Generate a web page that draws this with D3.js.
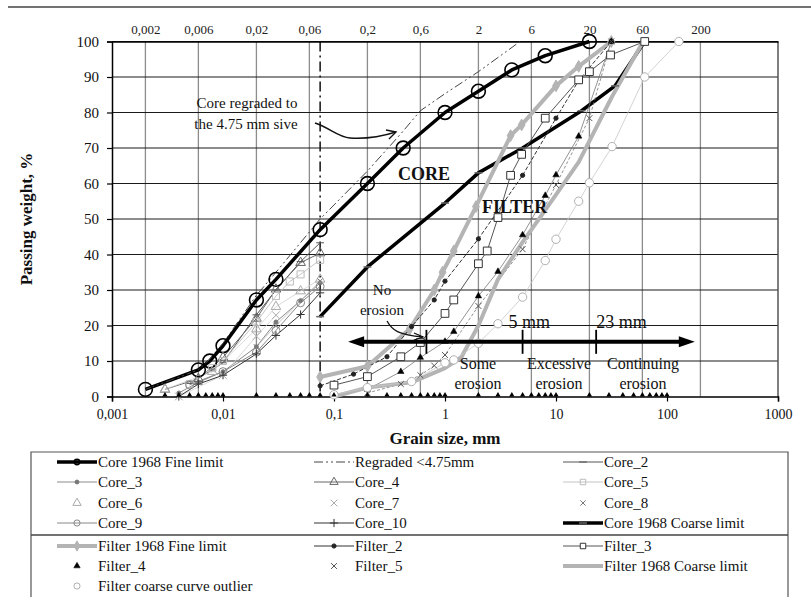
<!DOCTYPE html>
<html>
<head>
<meta charset="utf-8">
<script src="https://cdn.jsdelivr.net/npm/d3@7"></script>
<style>
  html, body { margin: 0; padding: 0; background: #fff; }
  svg { display: block; }
</style>
</head>
<body>
<svg id="chart" width="811" height="611" font-family="Liberation Serif, Times New Roman, serif"></svg>
<script>
// ---- axis ticks ----
const decadeTicks = [0.001, 0.01, 0.1, 1, 10, 100, 1000];
const decadeLabels = ["0,001", "0,01", "0,1", "1", "10", "100", "1000"];
const sieveTicks = [0.002, 0.006, 0.02, 0.06, 0.2, 0.6, 2, 6, 20, 60, 200];
const sieveLabels = ["0,002", "0,006", "0,02", "0,06", "0,2", "0,6", "2", "6", "20", "60", "200"];
const passingTicks = [0, 10, 20, 30, 40, 50, 60, 70, 80, 90, 100];
const siltLimit = 0.075;

// ---- gradation curves: [grain size mm, passing %] ----
const coreFineLimit = [[0.002, 2], [0.006, 7.5], [0.0076, 10], [0.01, 14.3], [0.02, 27.2], [0.03, 33], [0.075, 47], [0.2, 60], [0.42, 70], [1, 80], [2, 86], [4, 92], [8, 96], [20, 100]];
const regraded = [[0.002, 2], [0.006, 7.5], [0.0076, 10.5], [0.01, 15], [0.02, 28.5], [0.03, 35], [0.075, 50], [0.2, 63.5], [0.4, 74], [0.6, 80.5], [1, 85.3], [2, 91.5], [4.75, 100]];
const core2 = [[0.005, 3.7], [0.008, 7.5], [0.01, 9.5], [0.02, 23], [0.03, 30], [0.05, 38], [0.075, 43.3]];
const core3 = [[0.004, 1], [0.006, 4], [0.01, 7], [0.02, 14], [0.03, 21], [0.05, 27], [0.075, 32]];
const core4 = [[0.003, 2], [0.006, 5], [0.01, 11], [0.02, 22], [0.03, 30.2], [0.05, 37.7], [0.075, 40.4]];
const core5 = [[0.005, 3.5], [0.008, 8], [0.01, 10], [0.02, 21], [0.03, 28.3], [0.04, 32.4], [0.05, 34.4], [0.075, 38.5]];
const core6 = [[0.003, 2], [0.008, 7], [0.02, 19], [0.03, 25.3], [0.05, 29.7], [0.075, 33]];
const core7 = [[0.004, 0], [0.01, 6], [0.02, 17], [0.03, 22.9]];
const core8 = [[0.02, 14], [0.03, 20], [0.075, 32.5]];
const core9 = [[0.005, 3.3], [0.01, 7], [0.02, 12.5], [0.03, 18.6], [0.05, 26.4], [0.075, 31]];
const core10 = [[0.004, 0], [0.006, 3.5], [0.01, 6], [0.02, 12], [0.03, 17.2], [0.05, 23.1], [0.075, 29.2]];
const coreCoarseLimit = [[0.075, 22.5], [0.2, 36.5], [1, 54.5], [2, 63], [5, 70], [17, 80.5], [34, 87.5], [63, 100]];
const filterFineLimit = [[0.075, 5.5], [0.2, 8.5], [0.48, 19], [0.8, 30], [0.95, 35], [1.2, 41], [1.9, 53.5], [3.9, 73.5], [4.9, 76.5], [10, 87.5], [16, 93], [31.5, 100]];
const filter2 = [[0.075, 3], [0.15, 6.3], [0.3, 11.2], [0.5, 19.7], [0.8, 27.2], [1, 32.5], [2, 44.4], [5, 62.3], [10, 78.4], [16, 89], [31.5, 100]];
const filter3 = [[0.1, 3.2], [0.2, 5.6], [0.4, 11.2], [0.6, 15.2], [1, 23.4], [1.2, 27.2], [2, 37.4], [2.4, 41], [3, 50.4], [3.9, 62.3], [4.9, 68.2], [8, 78.4], [16, 89.2], [20, 91.5], [31, 96.2], [63, 100]];
const filter4 = [[0.2, 2], [0.4, 7], [0.6, 11], [1, 15.5], [1.2, 18.3], [2, 28.3], [3, 35.2], [5, 45.5], [8, 56.6], [10, 62.4], [16, 73.3], [31.5, 100]];
const filter5 = [[0.2, 1], [0.4, 3.5], [0.6, 6], [0.8, 8.7], [1, 11.7], [2, 25.5], [5, 41.5], [10, 59.6], [20, 78.4], [31.5, 100]];
const filterCoarseLimit = [[0.1, 0], [0.2, 2.5], [0.5, 4], [1, 8], [1.4, 11], [2, 20], [3, 33], [5, 43.5], [8, 52.5], [16, 66], [32, 84.5], [61, 100]];
const filterOutlier = [[0.1, 0.5], [0.2, 2.5], [0.5, 4.2], [1, 9.5], [1.2, 10.3], [2, 15], [3, 20.5], [5, 28], [8, 38.3], [10, 44.3], [16, 55], [20, 60.2], [32, 70.4], [63, 90], [128, 100]];
// sieves with no material retained, plotted on the 0 % line
const emptySieves = [0.003, 0.004, 0.005, 0.006, 0.007, 0.008, 0.009, 0.01, 0.02, 0.03, 0.04, 0.05, 0.06, 0.075, 0.1, 0.2, 0.3, 0.4, 0.5, 0.6, 0.7, 0.8, 0.9, 1, 2, 3, 4, 5, 6, 7, 8, 9, 10, 20, 30, 40, 50, 60, 70, 80, 90, 100];

// ---- erosion classification bar ----
const erosionRange = [0.134, 178];
const erosionLevel = 15.4;
const erosionBounds = [0.68, 5, 23];

// ---- series list (legend order) ----
const seriesNames = ["Core 1968 Fine limit", "Regraded <4.75mm", "Core_2", "Core_3", "Core_4", "Core_5", "Core_6", "Core_7", "Core_8", "Core_9", "Core_10", "Core 1968 Coarse limit", "Filter 1968 Fine limit", "Filter_2", "Filter_3", "Filter_4", "Filter_5", "Filter 1968 Coarse limit", "Filter coarse curve outlier"];
const seriesData = [coreFineLimit, regraded, core2, core3, core4, core5, core6, core7, core8, core9, core10, coreCoarseLimit, filterFineLimit, filter2, filter3, filter4, filter5, filterCoarseLimit, filterOutlier];

// drawing styles, by series index
const styles = [
  { stroke: "#000", width: 3.5, marker: "circle", size: 150, mStroke: "#000", mFill: "none", mWidth: 1.6, legSize: 22 },
  { stroke: "#444", width: 1, dash: "9,3,2,3,2,3" },
  { stroke: "#555", width: 1, marker: "dash", size: 8, mStroke: "#555", mWidth: 1 },
  { stroke: "#8a8a8a", width: 1, marker: "circle", size: 12, mStroke: "#777", mFill: "#777", mWidth: 1 },
  { stroke: "#666", width: 1, marker: "triangle", size: 40, mStroke: "#666", mFill: "none", mWidth: 1 },
  { stroke: "#c4c4c4", width: 1, marker: "square", size: 50, mStroke: "#bbb", mFill: "none", mWidth: 1 },
  { stroke: "#d0d0d0", width: 0.8, marker: "triangle", size: 40, mStroke: "#aaa", mFill: "none", mWidth: 1, noLegLine: true },
  { stroke: "#d0d0d0", width: 0.8, marker: "times", size: 40, mStroke: "#aaa", mWidth: 1, noLegLine: true },
  { stroke: "#bbb", width: 0.8, marker: "times", size: 20, mStroke: "#777", mWidth: 1, noLegLine: true },
  { stroke: "#888", width: 1, marker: "circle", size: 50, mStroke: "#888", mFill: "none", mWidth: 1 },
  { stroke: "#333", width: 1, marker: "plus", size: 24, mStroke: "#333", mWidth: 1 },
  { stroke: "#000", width: 3.5, marker: "dash", size: 8, mStroke: "#666", mWidth: 1.5 },
  { stroke: "#b4b4b4", width: 4, marker: "diamond", size: 40, mStroke: "#b4b4b4", mFill: "#b4b4b4", mWidth: 1 },
  { stroke: "#333", width: 1, dash: "4,2", marker: "circle", size: 14, mStroke: "#222", mFill: "#222", mWidth: 1, legDashOff: true },
  { stroke: "#555", width: 1, marker: "square", size: 60, mStroke: "#333", mFill: "#fff", mWidth: 1 },
  { stroke: "#777", width: 0.8, marker: "triangle", size: 18, mStroke: "#000", mFill: "#000", mWidth: 0.5, noLegLine: true },
  { stroke: "#777", width: 0.8, dash: "3,2", marker: "times", size: 24, mStroke: "#555", mWidth: 1, noLegLine: true },
  { stroke: "#b4b4b4", width: 4 },
  { stroke: "#c8c8c8", width: 0.8, marker: "circle", size: 55, mStroke: "#b0b0b0", mFill: "#fff", mWidth: 1, noLegLine: true }
];

// ---- scales ----
const x = d3.scaleLog().domain([0.001, 1000]).range([112, 778]);
const y = d3.scaleLinear().domain([0, 100]).range([396.5, 41.5]);

const svg = d3.select("#chart");
const FONT = "Liberation Serif, Times New Roman, serif";

function symbolPath(type, size) {
  if (type === "dash") { const h = Math.sqrt(size) * 1.4; return `M${-h},0H${h}`; }
  const map = {
    circle: d3.symbolCircle, triangle: d3.symbolTriangle, square: d3.symbolSquare,
    diamond: d3.symbolDiamond, times: d3.symbolTimes || d3.symbolCross, plus: d3.symbolPlus || d3.symbolCross
  };
  return d3.symbol().type(map[type]).size(size)();
}
function isStrokeOnly(type) { return type === "dash" || type === "times" || type === "plus"; }

// page rule at the top
svg.append("line").attr("x1", 8).attr("x2", 811).attr("y1", 7).attr("y2", 7)
  .attr("stroke", "#444").attr("stroke-width", 1.6);

// ---- grid ----
const grid = svg.append("g");
grid.selectAll(".vg").data(sieveTicks).join("line")
  .attr("x1", d => x(d)).attr("x2", d => x(d)).attr("y1", y(100)).attr("y2", y(0))
  .attr("stroke", "#8c8c8c").attr("stroke-width", 1.3);
grid.selectAll(".hg").data(passingTicks.filter(d => d > 0)).join("line")
  .attr("x1", x(0.001)).attr("x2", x(1000)).attr("y1", d => y(d)).attr("y2", d => y(d))
  .attr("stroke", "#1a1a1a").attr("stroke-width", 1.2);
grid.append("line").attr("x1", x(1000)).attr("x2", x(1000)).attr("y1", y(100)).attr("y2", y(0))
  .attr("stroke", "#555").attr("stroke-width", 1.5);

// silt / sand boundary
svg.append("line").attr("x1", x(siltLimit)).attr("x2", x(siltLimit)).attr("y1", y(100)).attr("y2", y(0))
  .attr("stroke", "#111").attr("stroke-width", 1.5).attr("stroke-dasharray", "10,4,2,4");

// ---- axes ----
const yAxis = d3.axisLeft(y).tickValues(passingTicks).tickSize(5).tickPadding(8).tickFormat(d3.format("d"));
const gy = svg.append("g").attr("transform", `translate(${x(0.001)},0)`).call(yAxis);
gy.attr("font-family", FONT);
gy.select(".domain").attr("stroke", "#000").attr("stroke-width", 1.5);
gy.selectAll(".tick line").attr("stroke", "#000").attr("stroke-width", 1.2);
gy.selectAll(".tick text").attr("font-size", 15).attr("fill", "#111");

const xAxis = d3.axisBottom(x).tickValues(decadeTicks).tickSize(5).tickPadding(8)
  .tickFormat((d, i) => decadeLabels[i]);
const gx = svg.append("g").attr("transform", `translate(0,${y(0)})`).call(xAxis);
gx.attr("font-family", FONT);
gx.select(".domain").attr("stroke", "#000").attr("stroke-width", 1.5);
gx.selectAll(".tick line").attr("stroke", "#000").attr("stroke-width", 1.2);
gx.selectAll(".tick text").attr("font-size", 14).attr("fill", "#111");

const xTop = d3.axisTop(x).tickValues(sieveTicks).tickSize(0).tickPadding(8)
  .tickFormat((d, i) => sieveLabels[i]);
const gt = svg.append("g").attr("transform", `translate(0,${y(100)})`).call(xTop);
gt.attr("font-family", FONT);
gt.select(".domain").attr("stroke", "#000").attr("stroke-width", 1.5);
gt.selectAll(".tick text").attr("font-size", 13).attr("fill", "#222");

// axis titles
svg.append("text").attr("x", 445).attr("y", 444).attr("text-anchor", "middle")
  .attr("font-size", 17).attr("font-weight", "bold").attr("fill", "#111").text("Grain size, mm");
svg.append("text").attr("transform", "translate(32,219) rotate(-90)").attr("text-anchor", "middle")
  .attr("font-size", 17).attr("font-weight", "bold").attr("fill", "#111").text("Passing weight, %");

// ---- curves ----
const line = d3.line().x(d => x(d[0])).y(d => y(d[1]));
const plot = svg.append("g");
seriesData.forEach((data, i) => {
  const s = styles[i];
  plot.append("path").attr("d", line(data)).attr("fill", "none")
    .attr("stroke", s.stroke).attr("stroke-width", s.width)
    .attr("stroke-dasharray", s.dash || null).attr("stroke-linejoin", "round");
});
seriesData.forEach((data, i) => {
  const s = styles[i];
  if (!s.marker) return;
  const p = symbolPath(s.marker, s.size);
  plot.append("g").selectAll("path").data(data).join("path")
    .attr("d", p).attr("transform", d => `translate(${x(d[0])},${y(d[1])})`)
    .attr("fill", isStrokeOnly(s.marker) ? "none" : s.mFill)
    .attr("stroke", s.mStroke).attr("stroke-width", s.mWidth);
});
// empty sieves
plot.append("g").selectAll("path").data(emptySieves).join("path")
  .attr("d", symbolPath("triangle", 12))
  .attr("transform", d => `translate(${x(d)},${y(0) - 1.5})`).attr("fill", "#000");

// ---- annotations ----
const ann = svg.append("g").attr("fill", "#111").attr("font-size", 15);
ann.append("text").attr("x", 247).attr("y", 108).attr("text-anchor", "middle").text("Core regraded to");
ann.append("text").attr("x", 246).attr("y", 129).attr("text-anchor", "middle").text("the 4.75 mm sive");
ann.append("path").attr("d", "M315,123 C330,128 338,137 350,138 C365,139 380,137 396,132")
  .attr("fill", "none").attr("stroke", "#111").attr("stroke-width", 1.4);
ann.append("path").attr("d", "M386,130 L396,132 L389,139").attr("fill", "none").attr("stroke", "#111").attr("stroke-width", 1.4);

ann.append("text").attr("x", 398).attr("y", 180).attr("font-size", 18).attr("font-weight", "bold").text("CORE");
ann.append("text").attr("x", 482).attr("y", 213).attr("font-size", 18).attr("font-weight", "bold").text("FILTER");

ann.append("text").attr("x", 382).attr("y", 295).attr("text-anchor", "middle").text("No");
ann.append("text").attr("x", 382).attr("y", 315).attr("text-anchor", "middle").text("erosion");
ann.append("path").attr("d", "M387,321 C392,330 398,335 423,337")
  .attr("fill", "none").attr("stroke", "#111").attr("stroke-width", 1.3);
ann.append("path").attr("d", "M414,333 L423,337 L414,340").attr("fill", "none").attr("stroke", "#111").attr("stroke-width", 1.3);

// erosion classification double arrow
const ey = y(erosionLevel);
const ex0 = x(erosionRange[0]), ex1 = x(erosionRange[1]);
ann.append("line").attr("x1", ex0 + 12).attr("x2", ex1 - 12).attr("y1", ey).attr("y2", ey)
  .attr("stroke", "#000").attr("stroke-width", 4);
ann.append("path").attr("d", `M${ex0},${ey} L${ex0 + 16},${ey - 5.5} L${ex0 + 16},${ey + 5.5} Z`).attr("fill", "#000");
ann.append("path").attr("d", `M${ex1},${ey} L${ex1 - 16},${ey - 5.5} L${ex1 - 16},${ey + 5.5} Z`).attr("fill", "#000");
ann.selectAll(".eb").data(erosionBounds).join("line")
  .attr("x1", d => x(d)).attr("x2", d => x(d)).attr("y1", ey - 12).attr("y2", ey + 12)
  .attr("stroke", "#000").attr("stroke-width", 1.8);
ann.append("text").attr("x", x(erosionBounds[1]) - 14).attr("y", ey - 14).attr("font-size", 18).text("5 mm");
ann.append("text").attr("x", x(erosionBounds[2])).attr("y", ey - 14).attr("font-size", 18).text("23 mm");
const zoneLabels = [["Some", "erosion", 478], ["Excessive", "erosion", 559], ["Continuing", "erosion", 643]];
zoneLabels.forEach(z => {
  ann.append("text").attr("x", z[2]).attr("y", 369).attr("text-anchor", "middle").attr("font-size", 16).text(z[0]);
  ann.append("text").attr("x", z[2]).attr("y", 389).attr("text-anchor", "middle").attr("font-size", 16).text(z[1]);
});

// ---- legend ----
const leg = svg.append("g");
leg.append("path").attr("d", "M31,597 V452 H788 V597").attr("fill", "none").attr("stroke", "#555").attr("stroke-width", 1.2);
leg.append("line").attr("x1", 31).attr("x2", 788).attr("y1", 535).attr("y2", 535).attr("stroke", "#444").attr("stroke-width", 1.4);
const colX = [57, 314, 563];
const rowY = [462, 482, 503, 523, 546, 566, 586];
seriesNames.forEach((name, i) => {
  const s = styles[i];
  const row = i < 12 ? Math.floor(i / 3) : 4 + Math.floor((i - 12) / 3);
  const col = i < 12 ? i % 3 : (i - 12) % 3;
  const lx = colX[col], ly = rowY[row];
  const g = leg.append("g");
  if (!s.noLegLine) {
    g.append("line").attr("x1", lx).attr("x2", lx + 40).attr("y1", ly).attr("y2", ly)
      .attr("stroke", s.stroke).attr("stroke-width", s.width)
      .attr("stroke-dasharray", s.legDashOff ? null : (s.dash || null));
  }
  if (s.marker) {
    g.append("path").attr("d", symbolPath(s.marker, s.legSize || Math.min(s.size, 30)))
      .attr("transform", `translate(${lx + 20},${ly})`)
      .attr("fill", isStrokeOnly(s.marker) ? "none" : s.mFill)
      .attr("stroke", s.mStroke).attr("stroke-width", s.mWidth);
  }
  g.append("text").attr("x", lx + 41).attr("y", ly + 5).attr("font-size", 15).attr("fill", "#111").text(name);
});
</script>
</body>
</html>
